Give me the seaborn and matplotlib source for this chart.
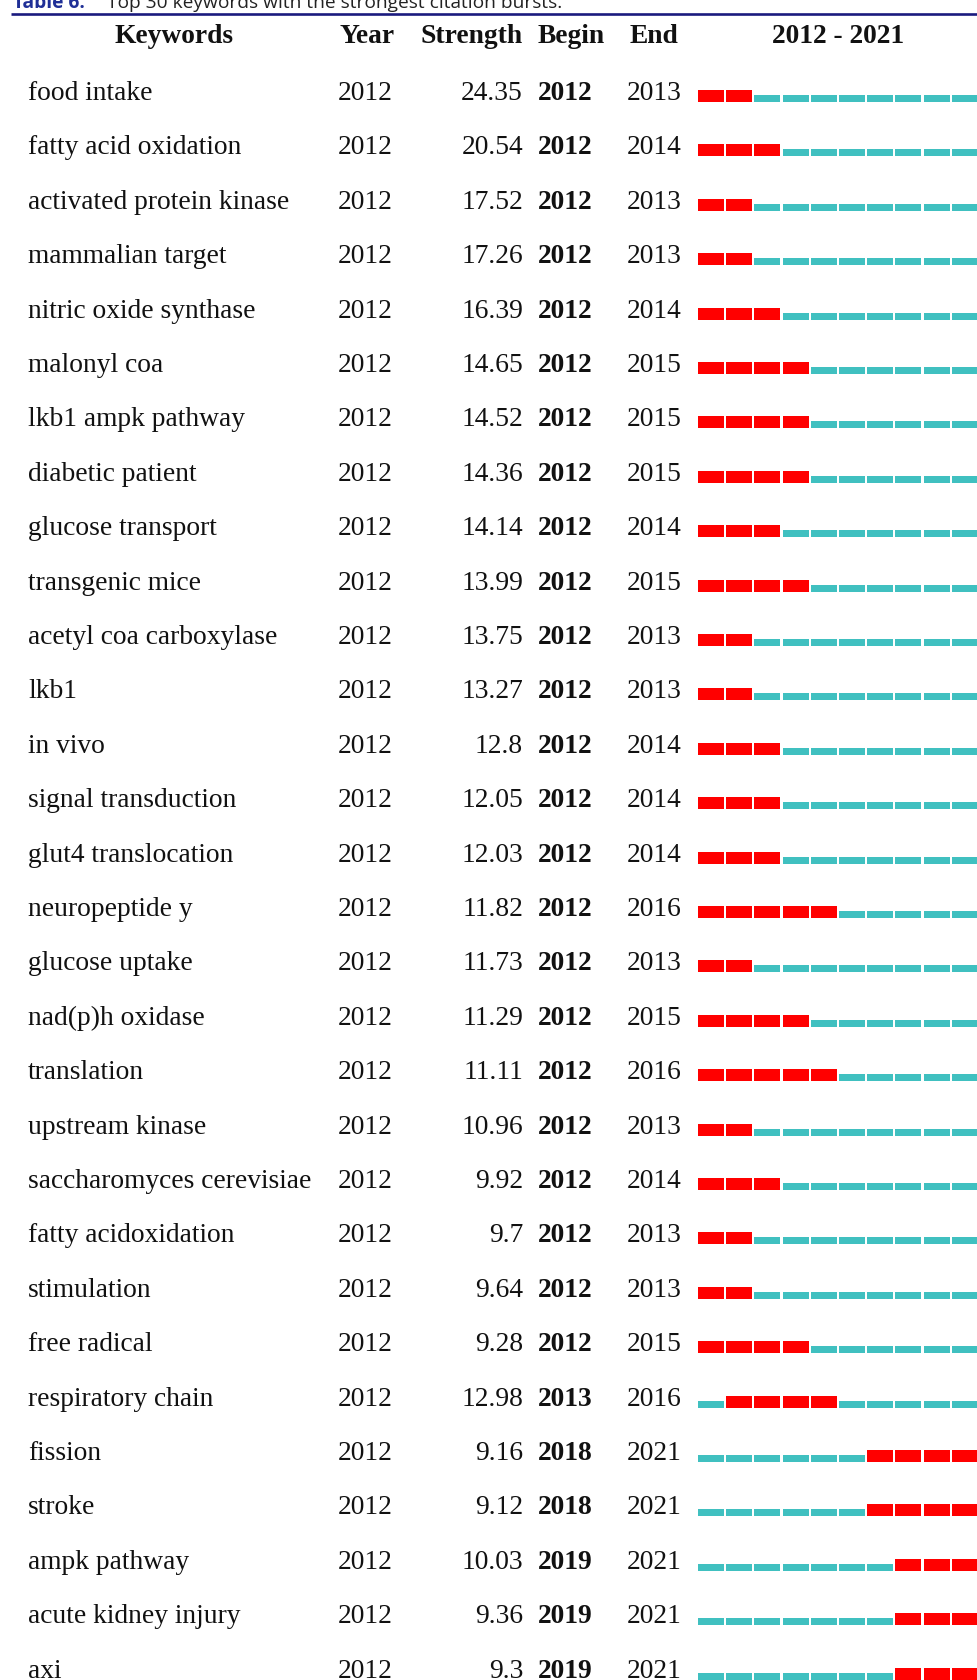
import matplotlib
matplotlib.use("Agg")
import matplotlib.pyplot as plt
import seaborn as sns
import numpy as np

# ---------------- data ----------------
keywords = ["food intake", "fatty acid oxidation", "activated protein kinase",
            "mammalian target", "nitric oxide synthase", "malonyl coa",
            "lkb1 ampk pathway", "diabetic patient", "glucose transport",
            "transgenic mice", "acetyl coa carboxylase", "lkb1", "in vivo",
            "signal transduction", "glut4 translocation", "neuropeptide y",
            "glucose uptake", "nad(p)h oxidase", "translation", "upstream kinase",
            "saccharomyces cerevisiae", "fatty acidoxidation", "stimulation",
            "free radical", "respiratory chain", "fission", "stroke",
            "ampk pathway", "acute kidney injury", "axi"]
year = [2012] * 30
strength = ["24.35", "20.54", "17.52", "17.26", "16.39", "14.65", "14.52", "14.36",
            "14.14", "13.99", "13.75", "13.27", "12.8", "12.05", "12.03", "11.82",
            "11.73", "11.29", "11.11", "10.96", "9.92", "9.7", "9.64", "9.28",
            "12.98", "9.16", "9.12", "10.03", "9.36", "9.3"]
begin = [2012] * 24 + [2013, 2018, 2018, 2019, 2019, 2019]
end = [2013, 2014, 2013, 2013, 2014, 2015, 2015, 2015, 2014, 2015, 2013, 2013,
       2014, 2014, 2014, 2016, 2013, 2015, 2016, 2013, 2014, 2013, 2013, 2015,
       2016, 2021, 2021, 2021, 2021, 2021]
span_start, span_end = 2012, 2021
headers = ["Keywords", "Year", "Strength", "Begin", "End"]
caption_label = "Table 6."
caption_text = "Top 30 keywords with the strongest citation bursts."

# ---------------- style ----------------
sns.set_theme(style="white")
plt.rcParams["font.family"] = ["Liberation Serif", "DejaVu Serif"]

W, H, DPI = 978, 1680, 100
fig = plt.figure(figsize=(W / DPI, H / DPI), dpi=DPI)
fig.patch.set_facecolor("white")

BASE0, PITCH = 100.0, 54.4          # pixel baseline of first row, row pitch
def px2row(py):
    return (py - BASE0) / PITCH

ylim = (px2row(H), px2row(0))

ax = fig.add_axes([0, 0, 1, 1])
ax.set_xlim(0, W)
ax.set_ylim(*ylim)
ax.axis("off")

FS = 19.8
TXT = "#111111"

# caption (cut at the top)
cap_y = px2row(8)
ax.text(13, cap_y, caption_label, fontsize=13.8, fontweight="bold", color="#1f2f96",
        family=["Open Sans", "DejaVu Sans"], va="baseline", ha="left")
ax.text(107, cap_y, caption_text, fontsize=13.8, color="#222222",
        family=["Open Sans", "DejaVu Sans"], va="baseline", ha="left")
ax.plot([11, W], [px2row(13.5)] * 2, color="#1a1a7e", lw=1.9, solid_capstyle="butt")

# header
hy = px2row(43)
ax.text(174, hy, headers[0], fontsize=FS, fontweight="bold", color=TXT, ha="center", va="baseline")
ax.text(340, hy, headers[1], fontsize=FS, fontweight="bold", color=TXT, ha="left", va="baseline")
ax.text(523, hy, headers[2], fontsize=FS, fontweight="bold", color=TXT, ha="right", va="baseline")
ax.text(538, hy, headers[3], fontsize=FS, fontweight="bold", color=TXT, ha="left", va="baseline")
ax.text(630, hy, headers[4], fontsize=FS, fontweight="bold", color=TXT, ha="left", va="baseline")
ax.text(838, hy, f"{span_start} - {span_end}", fontsize=FS, fontweight="bold", color=TXT,
        ha="center", va="baseline")

# rows text
for i, kw in enumerate(keywords):
    ax.text(28, i, kw, fontsize=FS, color=TXT, ha="left", va="baseline")
    ax.text(338, i, str(year[i]), fontsize=FS, color=TXT, ha="left", va="baseline")
    ax.text(523, i, strength[i], fontsize=FS, color=TXT, ha="right", va="baseline")
    ax.text(538, i, str(begin[i]), fontsize=FS, fontweight="bold", color=TXT, ha="left", va="baseline")
    ax.text(627, i, str(end[i]), fontsize=FS, color=TXT, ha="left", va="baseline")

# bars axes: x in years
SEG = 28.2
bx = fig.add_axes([698 / W, 0, (span_end - span_start + 1) * SEG / W, 1])
bx.set_xlim(span_start, span_end + 1)
bx.set_ylim(*ylim)
bx.axis("off")
bx.patch.set_alpha(0)

RED, CYAN = "#ff0000", "#40c0c0"
years = np.arange(span_start, span_end + 1)
red_h, cyan_h = 12 / PITCH, 7 / PITCH
off = 2 / PITCH
for i in range(len(keywords)):
    burst = (years >= begin[i]) & (years <= end[i])
    for yr, b in zip(years, burst):
        bx.bar(yr, -(red_h if b else cyan_h), bottom=i + off, width=26 / SEG,
               align="edge", color=RED if b else CYAN, linewidth=0)

fig.savefig("out.png", dpi=DPI, facecolor="white")
